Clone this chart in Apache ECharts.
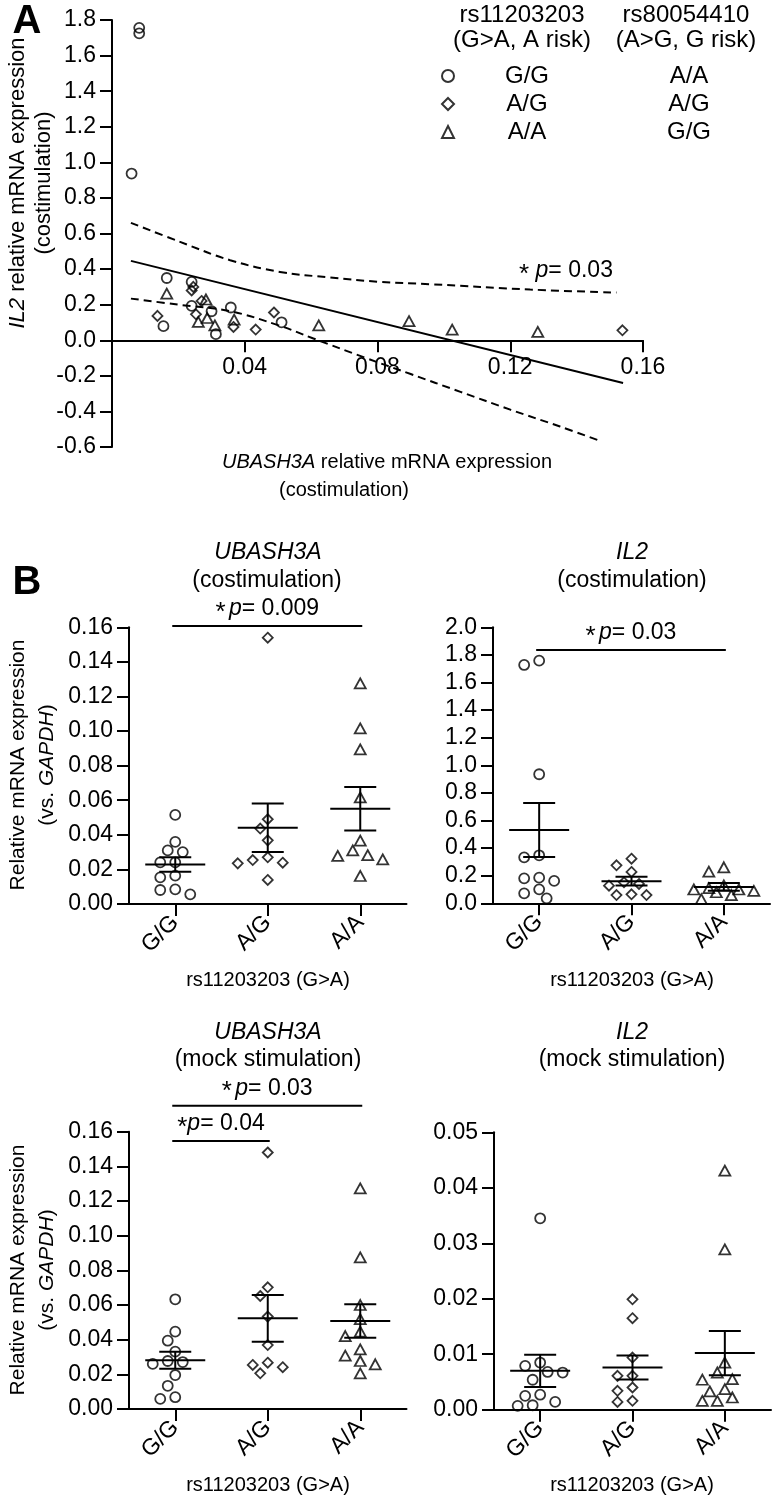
<!DOCTYPE html>
<html><head><meta charset="utf-8">
<script src="https://cdn.jsdelivr.net/npm/echarts@6/dist/echarts.min.js"></script>
<style>html,body{margin:0;padding:0;background:#fff}#c{width:773px;height:1500px}</style>
</head><body><div id="c"></div>
<script>
// ---------- Panel A data ----------
const genotypes = ['G/G', 'A/G', 'A/A'];          // rs11203203
const genotypes2 = ['A/A', 'A/G', 'G/G'];         // rs80054410
const scatterGG = [[0.0082,1.756],[0.0082,1.725],[0.0059,0.937],[0.0165,0.35],[0.0155,0.079],[0.024,0.328],[0.024,0.193],[0.030,0.163],[0.0313,0.034],[0.0358,0.184],[0.0511,0.101]];
const scatterAG = [[0.0137,0.137],[0.024,0.28],[0.0245,0.30],[0.0253,0.146],[0.027,0.221],[0.0366,0.075],[0.0433,0.060],[0.0488,0.156],[0.1538,0.056]];
const scatterAA = [[0.0165,0.262],[0.026,0.103],[0.0283,0.229],[0.0287,0.125],[0.031,0.084],[0.0368,0.116],[0.0623,0.084],[0.0895,0.107],[0.1025,0.060],[0.1283,0.047]];
const regressionLine = [[0.0057,0.446],[0.154,-0.24]];
const upperBand = [[0.0057,0.66],[0.0205,0.553],[0.0356,0.45],[0.0506,0.384],[0.0657,0.353],[0.0808,0.328],[0.0959,0.315],[0.126,0.285],[0.152,0.268]];
const lowerBand = [[0.0057,0.234],[0.02,0.20],[0.0356,0.163],[0.05,0.085],[0.0607,0.01],[0.0758,-0.095],[0.09,-0.19],[0.105,-0.29],[0.12,-0.39],[0.135,-0.485],[0.147,-0.565]];
const corrP = '0.03';

// ---------- Panel B data ----------
const ubCoGG = [0.0515,0.0359,0.030,0.031,0.0241,0.0241,0.0164,0.0154,0.0085,0.0056,0.0081];
const ubCoAG = [0.154,0.049,0.0436,0.0368,0.027,0.0239,0.0235,0.0254,0.0139];
const ubCoAA = [0.1276,0.1016,0.0894,0.0617,0.0366,0.031,0.0278,0.0258,0.0283,0.0162];
const ubCoMean = [0.0228,0.0441,0.0551];
const ubCoSem = [0.0042,0.014,0.0126];

const ilCoGG = [1.727,1.758,0.935,0.333,0.348,0.181,0.162,0.186,0.101,0.072,0.036];
const ilCoAG = [0.323,0.275,0.227,0.14,0.128,0.152,0.065,0.06,0.06];
const ilCoAA = [0.261,0.229,0.13,0.11,0.10,0.10,0.09,0.08,0.06,0.03];
const ilCoMean = [0.531,0.160,0.119];
const ilCoSem = [0.196,0.0315,0.028];

const ubMoGG = [0.0633,0.0446,0.0394,0.0331,0.0277,0.026,0.0271,0.0196,0.0134,0.0058,0.0068];
const ubMoAG = [0.148,0.0702,0.0652,0.0533,0.0369,0.0254,0.0206,0.0241,0.0267];
const ubMoAA = [0.1273,0.0875,0.060,0.0519,0.0446,0.0421,0.0344,0.0308,0.0277,0.0258,0.0206];
const ubMoMean = [0.0281,0.0523,0.0508];
const ubMoSem = [0.0049,0.0135,0.0097];

const ilMoGG = [0.0345,0.0079,0.0085,0.0067,0.0068,0.0054,0.0027,0.0014,0.0007,0.0008,0.0025];
const ilMoAG = [0.0199,0.0165,0.0094,0.0061,0.0061,0.004,0.0034,0.0014,0.0016];
const ilMoAA = [0.0431,0.0289,0.0085,0.0067,0.0055,0.0054,0.0037,0.0033,0.0022,0.0016,0.0016];
const ilMoMean = [0.0070,0.0076,0.0102];
const ilMoSem = [0.0029,0.00215,0.0040];

// significance brackets: [fromCategory, toCategory, yValue], label
const sigUbCo = [0, 2, 0.1608]; const sigUbCoP = '0.009';
const sigIlCo = [0, 2, 1.835];  const sigIlCoP = '0.03';
const sigUbMo1 = [0, 2, 0.175]; const sigUbMo1P = '0.03';
const sigUbMo2 = [0, 1, 0.1546]; const sigUbMo2P = '0.04';

// ---------- styling ----------
const FONT = "'Liberation Sans', Arial, Helvetica, sans-serif";
const TFS = 23;
const BLACK = '#000';
const hollow = {color: 'rgba(0,0,0,0)', borderColor: BLACK, borderWidth: 1.8};
const symbols = ['circle', 'diamond', 'triangle'];
const symSize = [10, 10, [11, 10]];
const TICK = 12;

const chart = echarts.init(document.getElementById('c'), null, {renderer: 'canvas'});

function fmt(dec) { return v => (Math.abs(v) < 1e-9 ? 0 : v).toFixed(dec); }
function yAxis(gi, min, max, interval, dec) {
  return {type: 'value', gridIndex: gi, min, max, interval,
    axisLine: {show: true, lineStyle: {color: BLACK, width: 2}},
    axisTick: {show: true, length: TICK, lineStyle: {color: BLACK, width: 2}},
    axisLabel: {color: BLACK, fontSize: TFS, fontFamily: FONT, margin: TICK + 4, formatter: fmt(dec)},
    splitLine: {show: false}};
}
function catAxis(gi) {
  return {type: 'category', gridIndex: gi, data: genotypes, boundaryGap: true,
    axisLine: {show: true, onZero: false, lineStyle: {color: BLACK, width: 2}},
    axisTick: {show: true, alignWithLabel: true, length: TICK, lineStyle: {color: BLACK, width: 2}},
    axisLabel: {color: BLACK, fontSize: TFS, fontFamily: FONT, rotate: 45, margin: TICK + 3}};
}

function meanSemSeries(gi, means, sems) {
  return {type: 'custom', xAxisIndex: gi, yAxisIndex: gi, z: 4, clip: false,
    data: means.map((m, i) => [i, m, sems[i]]),
    encode: {x: 0, y: 1},
    renderItem: (params, api) => {
      const c = api.value(0), m = api.value(1), s = api.value(2);
      const pm = api.coord([c, m]), ph = api.coord([c, m + s]), pl = api.coord([c, m - s]);
      const st = {stroke: BLACK, lineWidth: 2};
      const W = 30, C = 16;
      return {type: 'group', children: [
        {type: 'line', shape: {x1: pm[0] - W, y1: pm[1], x2: pm[0] + W, y2: pm[1]}, style: st},
        {type: 'line', shape: {x1: ph[0], y1: ph[1], x2: pl[0], y2: pl[1]}, style: st},
        {type: 'line', shape: {x1: ph[0] - C, y1: ph[1], x2: ph[0] + C, y2: ph[1]}, style: st},
        {type: 'line', shape: {x1: pl[0] - C, y1: pl[1], x2: pl[0] + C, y2: pl[1]}, style: st}
      ]};
    }};
}
function richP(fs) {
  return {s: {fontSize: fs + 3, fontFamily: FONT, fill: BLACK, padding: [7, 0, 0, 0]},
          i: {fontSize: fs, fontFamily: FONT, fontStyle: 'italic', fill: BLACK},
          n: {fontSize: fs, fontFamily: FONT, fill: BLACK}};
}
function sigSeries(gi, br, p, gapStar) {
  return {type: 'custom', xAxisIndex: gi, yAxisIndex: gi, z: 4, clip: false,
    data: [br], encode: {x: [0, 1], y: 2},
    renderItem: (params, api) => {
      const a = api.coord([api.value(0), api.value(2)]);
      const b = api.coord([api.value(1), api.value(2)]);
      const x1 = a[0] - 3, x2 = b[0] + 2;
      return {type: 'group', children: [
        {type: 'line', shape: {x1, y1: a[1], x2, y2: a[1]}, style: {stroke: BLACK, lineWidth: 2}},
        {type: 'text', x: (x1 + x2) / 2, y: a[1] - 17,
          style: {text: '{s|*}' + (gapStar ? ' ' : '') + '{i|p}{n|= ' + p + '}', rich: richP(23),
            align: 'center', verticalAlign: 'middle'}}
      ]};
    }};
}
function dotSeries(id, gi, cat, vals) {
  return {id, type: 'scatter', xAxisIndex: gi, yAxisIndex: gi, symbol: symbols[cat], symbolSize: symSize[cat],
    itemStyle: hollow, z: 3, data: vals.map(v => [cat, v])};
}

const panels = [
  {gi: 1, sets: [ubCoGG, ubCoAG, ubCoAA], mean: ubCoMean, sem: ubCoSem},
  {gi: 2, sets: [ilCoGG, ilCoAG, ilCoAA], mean: ilCoMean, sem: ilCoSem},
  {gi: 3, sets: [ubMoGG, ubMoAG, ubMoAA], mean: ubMoMean, sem: ubMoSem},
  {gi: 4, sets: [ilMoGG, ilMoAG, ilMoAA], mean: ilMoMean, sem: ilMoSem}
];

const series = [
  {name: 'G/G', type: 'scatter', xAxisIndex: 0, yAxisIndex: 0, symbol: 'circle', symbolSize: 10, itemStyle: hollow, data: scatterGG, z: 3},
  {name: 'A/G', type: 'scatter', xAxisIndex: 0, yAxisIndex: 0, symbol: 'diamond', symbolSize: 10, itemStyle: hollow, data: scatterAG, z: 3},
  {name: 'A/A', type: 'scatter', xAxisIndex: 0, yAxisIndex: 0, symbol: 'triangle', symbolSize: [11, 10], itemStyle: hollow, data: scatterAA, z: 3},
  {type: 'line', xAxisIndex: 0, yAxisIndex: 0, data: regressionLine, symbol: 'none', lineStyle: {color: BLACK, width: 2}, z: 2},
  {type: 'line', xAxisIndex: 0, yAxisIndex: 0, data: upperBand, symbol: 'none', smooth: 0.4, lineStyle: {color: BLACK, width: 2, type: [8, 5]}, z: 2},
  {type: 'line', xAxisIndex: 0, yAxisIndex: 0, data: lowerBand, symbol: 'none', smooth: 0.4, lineStyle: {color: BLACK, width: 2, type: [8, 5]}, z: 2}
];
panels.forEach(p => {
  p.sets.forEach((vals, cat) => series.push(dotSeries('dots' + p.gi + '_' + cat, p.gi, cat, vals)));
  series.push(meanSemSeries(p.gi, p.mean, p.sem));
});
series.push(sigSeries(1, sigUbCo, sigUbCoP, true));
series.push(sigSeries(2, sigIlCo, sigIlCoP, true));
series.push(sigSeries(3, sigUbMo1, sigUbMo1P, true));
series.push(sigSeries(3, sigUbMo2, sigUbMo2P, false));

function txt(text, x, y, opt) {
  opt = opt || {};
  const fs = opt.fs || 20;
  return {type: 'text', x, y, rotation: opt.rot || 0, z: 10,
    style: {text, fill: BLACK, fontSize: fs, fontFamily: FONT, fontWeight: opt.bold ? 'bold' : 'normal',
      fontStyle: opt.italic ? 'italic' : 'normal', align: 'center', verticalAlign: 'middle',
      rich: {i: {fontSize: fs, fontFamily: FONT, fontStyle: 'italic', fill: BLACK},
             s: {fontSize: fs + 3, fontFamily: FONT, fill: BLACK, padding: [7, 0, 0, 0]}}}};
}
const R = Math.PI / 2;
const graphics = [
  txt('A', 27, 22, {fs: 40, bold: true}),
  txt('B', 27, 583, {fs: 40, bold: true}),
  txt('{i|IL2} relative mRNA expression', 18, 183, {rot: R, fs: 22}),
  txt('(costimulation)', 44, 183, {rot: R, fs: 22}),
  txt('{i|UBASH3A} relative mRNA expression', 387, 462, {fs: 20}),
  txt('(costimulation)', 344, 490, {fs: 20}),
  txt('rs11203203', 522, 15, {fs: 24}), txt('(G>A, A risk)', 522, 40, {fs: 24}),
  txt('rs80054410', 686, 15, {fs: 24}), txt('(A>G, G risk)', 686, 40, {fs: 24}),
  txt('{s|*} {i|p}= ' + corrP, 566, 271, {fs: 23}),
  txt('{i|UBASH3A}', 268, 553, {fs: 23}), txt('(costimulation)', 267, 581, {fs: 23}),
  txt('{i|IL2}', 632, 553, {fs: 23}), txt('(costimulation)', 632, 581, {fs: 23}),
  txt('{i|UBASH3A}', 268, 1033, {fs: 23}), txt('(mock stimulation)', 268, 1060, {fs: 23}),
  txt('{i|IL2}', 632, 1033, {fs: 23}), txt('(mock stimulation)', 632, 1060, {fs: 23}),
  txt('Relative mRNA expression', 18, 765, {rot: R, fs: 21}), txt('(vs. {i|GAPDH})', 47, 765, {rot: R, fs: 21}),
  txt('Relative mRNA expression', 18, 1270, {rot: R, fs: 21}), txt('(vs. {i|GAPDH})', 47, 1270, {rot: R, fs: 21}),
  txt('rs11203203 (G>A)', 268, 980), txt('rs11203203 (G>A)', 632, 980),
  txt('rs11203203 (G>A)', 268, 1485), txt('rs11203203 (G>A)', 632, 1485)
];

const gridA = {left: 112, top: 20, width: 531, height: 427};
const yAmin = -0.6, yAmax = 1.8;
const option = {
  animation: false,
  backgroundColor: '#fff',
  textStyle: {fontFamily: FONT},
  legend: {
    data: ['G/G', 'A/G', 'A/A'], orient: 'vertical', left: 436, top: 59, itemGap: 4,
    itemWidth: 12, itemHeight: 12, selectedMode: false,
    itemStyle: {color: 'rgba(0,0,0,0)', borderColor: BLACK, borderWidth: 2},
    formatter: name => '{a|' + name + '}{b|' + genotypes2[genotypes.indexOf(name)] + '}',
    textStyle: {color: BLACK, fontFamily: FONT, fontSize: 24,
      rich: {a: {width: 136, align: 'center', fontSize: 24, fontFamily: FONT, lineHeight: 24},
             b: {width: 188, align: 'center', fontSize: 24, fontFamily: FONT, lineHeight: 24}}}
  },
  grid: [
    gridA,
    {left: 129, top: 627.3, width: 277.5, height: 276.7},
    {left: 493, top: 627.3, width: 277, height: 276},
    {left: 129, top: 1131.7, width: 277.5, height: 277.3},
    {left: 494, top: 1132.3, width: 277, height: 277.4}
  ],
  xAxis: [
    {type: 'value', gridIndex: 0, min: 0, max: 0.16, interval: 0.04,
      // x axis drawn through y = 0 (moved up from the grid bottom)
      offset: -gridA.height * (0 - yAmin) / (yAmax - yAmin),
      axisLine: {show: true, onZero: false, lineStyle: {color: BLACK, width: 2}},
      axisTick: {show: true, length: TICK, lineStyle: {color: BLACK, width: 2}},
      axisLabel: {color: BLACK, fontSize: TFS, fontFamily: FONT, margin: TICK + 4,
        formatter: v => (v === 0 ? '' : v.toFixed(2))},
      splitLine: {show: false}},
    catAxis(1), catAxis(2), catAxis(3), catAxis(4)
  ],
  yAxis: [
    yAxis(0, yAmin, yAmax, 0.2, 1),
    yAxis(1, 0, 0.16, 0.02, 2),
    yAxis(2, 0, 2.0, 0.2, 1),
    yAxis(3, 0, 0.16, 0.02, 2),
    yAxis(4, 0, 0.05, 0.01, 2)
  ],
  graphic: graphics,
  series
};
chart.setOption(option);

// beeswarm spread of dot-plot points (horizontal offsets from pixel overlap), capped width
const updates = [];
panels.forEach(p => {
  p.sets.forEach((vals, cat) => {
    const id = 'dots' + p.gi + '_' + cat;
    const ys = vals.map(v => chart.convertToPixel({xAxisIndex: p.gi, yAxisIndex: p.gi}, [cat, v])[1]);
    const order = ys.map((y, i) => ({y, i})).sort((a, b) => a.y - b.y);
    const placed = []; const offs = vals.map(() => 0);
    const D = 11, step = 7.5, maxK = 8;
    order.forEach(pt => {
      let best = 0, bestD = -1;
      for (let k = 0; k <= maxK; k++) {
        const cand = k === 0 ? 0 : (k % 2 ? -1 : 1) * Math.ceil(k / 2) * step;
        const dmin = placed.reduce((m, q) => Math.min(m, Math.hypot(q.x - cand, q.y - pt.y)), Infinity);
        if (dmin >= D) { best = cand; bestD = dmin; break; }
        if (dmin > bestD) { bestD = dmin; best = cand; }
      }
      offs[pt.i] = best; placed.push({x: best, y: pt.y});
    });
    updates.push({id, data: vals.map((v, i) => ({value: [cat, v], symbolOffset: [offs[i], 0]}))});
  });
});
chart.setOption({series: updates});
</script>
</body></html>
